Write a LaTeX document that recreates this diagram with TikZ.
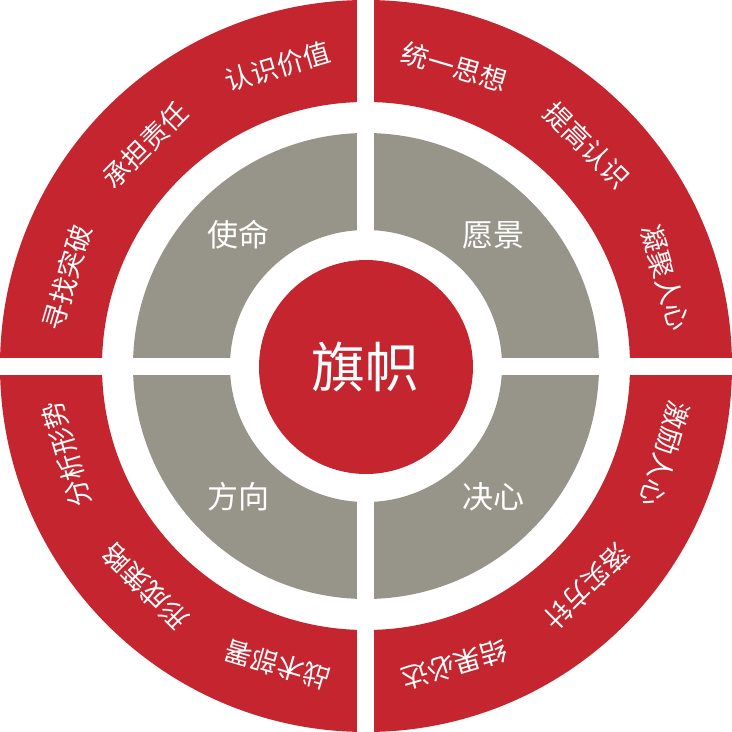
\documentclass[tikz,border=0pt]{standalone}
\usepackage{fontspec}
\newfontfamily\cjk{Noto Sans CJK SC}
\definecolor{qred}{RGB}{196,37,47}
\definecolor{qgray}{RGB}{151,149,138}
\begin{document}
\begin{tikzpicture}[x=1pt,y=1pt,
  outerlabel/.style={text=white,font=\cjk\fontsize{27}{27}\selectfont,inner sep=0pt},
  innerlabel/.style={text=white,font=\cjk\fontsize{31}{31}\selectfont,inner sep=0pt},
  centerlabel/.style={text=white,font=\cjk\fontsize{54}{54}\selectfont,inner sep=0pt},
]
\useasboundingbox (-366,-366) rectangle (366,366);
% rings
\fill[qred,even odd rule] (0,0) circle (366) (0,0) circle (264);
\fill[qgray,even odd rule] (0,0) circle (233) (0,0) circle (136);
% white cross gaps
\fill[white] (-370,-8.5) rectangle (370,8.5);
\fill[white] (-8.5,-370) rectangle (8.5,370);
% centre disc
\fill[qred] (0,-1) circle (107);
\node[centerlabel] (flag) at (0,-1) {旗帜};
% inner labels
\node[innerlabel] (mission) at (-127,131) {使命};
\node[innerlabel] (vision) at (128,131) {愿景};
\node[innerlabel] (direction) at (-127,-131) {方向};
\node[innerlabel] (resolve) at (128,-131) {决心};
% outer labels
\foreach \ang/\txt/\nm in {
  106.5/认识价值/a1, 135/承担责任/a2, 163.5/寻找突破/a3,
  73.5/统一思想/b1, 45/提高认识/b2, 16.5/凝聚人心/b3,
  -16.5/激励人心/c1, -45/落实方针/c2, -73.5/结果必达/c3,
  196.5/分析形势/d1, 225/形成策略/d2, 253.5/战术部署/d3}
  \node[outerlabel,rotate=\ang-90] (\nm) at (\ang:312) {\txt};
\end{tikzpicture}
\end{document}
